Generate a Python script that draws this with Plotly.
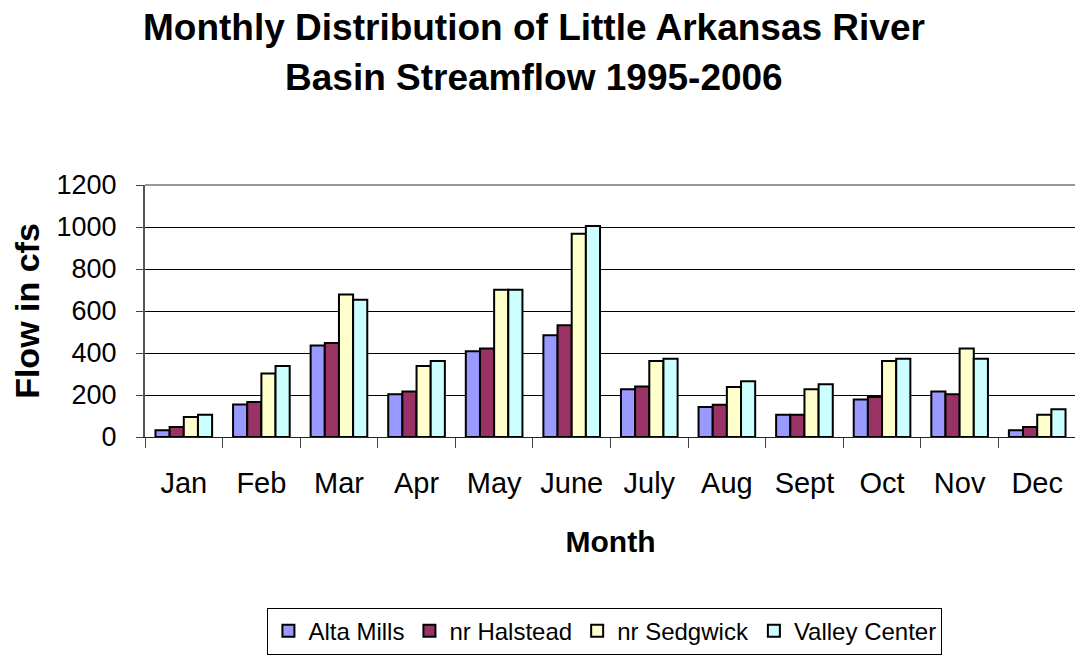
import plotly.graph_objects as go

months = ["Jan", "Feb", "Mar", "Apr", "May", "June", "July", "Aug", "Sept", "Oct", "Nov", "Dec"]
alta_mills = [32, 155, 436, 203, 408, 484, 227, 143, 106, 179, 217, 32]
nr_halstead = [48, 167, 448, 217, 421, 532, 241, 154, 106, 190, 203, 48]
nr_sedgwick = [95, 302, 678, 338, 701, 968, 362, 238, 227, 362, 421, 106]
valley_center = [106, 338, 654, 362, 701, 1005, 373, 265, 251, 373, 373, 132]

series = [
    ("Alta Mills", alta_mills, "#9999FF"),
    ("nr Halstead", nr_halstead, "#993366"),
    ("nr Sedgwick", nr_sedgwick, "#FFFFCC"),
    ("Valley Center", valley_center, "#CCFFFF"),
]

FONT = "Liberation Sans, Arial, sans-serif"

fig = go.Figure()
for name, vals, color in series:
    fig.add_trace(go.Bar(
        x=months, y=vals, name=name,
        marker=dict(color=color, line=dict(color="black", width=2)),
    ))

# page body has an 8px margin, so the figure is sized/offset to fit the 1083x663 window
fig.update_layout(
    width=1075, height=655,
    margin=dict(l=137, r=7, t=177, b=226, autoexpand=False),
    paper_bgcolor="white", plot_bgcolor="white",
    barmode="group", bargap=0.27, bargroupgap=0,
    font=dict(family=FONT, color="black"),
    showlegend=True,
    legend=dict(
        orientation="h", x=0.494, xanchor="center", y=-0.77, yanchor="middle",
        bordercolor="black", borderwidth=1, font=dict(size=24, family=FONT),
        bgcolor="white",
    ),
    xaxis=dict(
        type="category", tickson="boundaries", ticks="outside", ticklen=10,
        tickcolor="#444", tickwidth=1, showline=True, linecolor="#222", linewidth=1,
        tickfont=dict(size=29, family=FONT), ticklabelstandoff=20, automargin=False,
        title=dict(text="<b>Month</b>", font=dict(size=30, family=FONT), standoff=33),
        showgrid=False,
    ),
    yaxis=dict(
        range=[0, 1200], tickvals=[0, 200, 400, 600, 800, 1000, 1200],
        ticks="outside", ticklen=7, tickcolor="#444", showline=True,
        linecolor="#555", linewidth=2, showgrid=True, gridcolor="black", gridwidth=1,
        zeroline=False, tickfont=dict(size=27, family=FONT), ticklabelstandoff=14,
        automargin=False,
        title=dict(text="<b>Flow in cfs</b>", font=dict(size=34, family=FONT), standoff=22),
    ),
    shapes=[
        dict(type="line", xref="paper", yref="paper", x0=0, x1=1, y0=1, y1=1,
             line=dict(color="#999999", width=2), layer="above"),
        dict(type="line", xref="paper", yref="paper", x0=1, x1=1, y0=0, y1=1,
             line=dict(color="#999999", width=2), layer="above"),
    ],
    annotations=[
        dict(text="<b>Monthly Distribution of Little Arkansas River</b>", xref="paper", yref="paper",
             x=0.418, y=1.626, xanchor="center", yanchor="middle", showarrow=False,
             font=dict(size=37, family=FONT, color="black")),
        dict(text="<b>Basin Streamflow 1995-2006</b>", xref="paper", yref="paper",
             x=0.418, y=1.427, xanchor="center", yanchor="middle", showarrow=False,
             font=dict(size=37, family=FONT, color="black")),
    ],
)

fig.write_html("out.html")
